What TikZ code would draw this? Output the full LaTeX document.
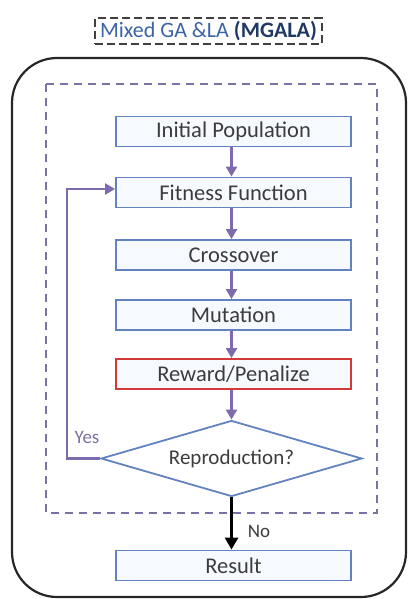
\documentclass[tikz,border=0pt]{standalone}
\usepackage{fontspec}
\setmainfont{Carlito}
\usetikzlibrary{arrows.meta,shapes.geometric}
\definecolor{boxblue}{HTML}{6383C0}
\definecolor{boxfill}{HTML}{F6FAFF}
\definecolor{flowpurple}{HTML}{7E6BAE}
\definecolor{redline}{HTML}{D23A3A}
\definecolor{txtgray}{HTML}{3C3C3C}
\definecolor{titleblue}{HTML}{3A64A4}
\definecolor{titledark}{HTML}{1F3864}
\tikzset{
  stepbox/.style={draw=boxblue, fill=boxfill, line width=1.8pt, minimum width=235pt,
    minimum height=30pt, inner sep=0pt, text=txtgray, font=\fontsize{22.5}{26}\selectfont},
  flow/.style={draw=flowpurple, line width=2.2pt, -{Triangle[length=10pt,width=11pt]}},
}
\begin{document}
\begin{tikzpicture}[x=1pt,y=-1pt]
\useasboundingbox (0,0) rectangle (413,599);
% caption with dashed frame
\node[draw=black!75, dashed, dash pattern=on 8pt off 4pt, line width=2pt, inner xsep=5pt, inner ysep=3pt,
  text=titleblue, font=\fontsize{22}{26}\selectfont] (title) at (208.5,31)
  {Mixed GA \&LA \textbf{\textcolor{titledark}{(MGALA)}}};
% outer rounded container
\draw[black!85, line width=2.2pt, rounded corners=45pt] (12,58) rectangle (406,597);
% dashed inner region
\draw[flowpurple!75!gray, dashed, dash pattern=on 8pt off 6pt, line width=1.8pt] (46,84) rectangle (377,513);
% steps
\node[stepbox] (init) at (233.5,131.5) {Initial Population};
\node[stepbox] (fit) at (233.5,192.5) {Fitness Function};
\node[stepbox] (cross) at (233.5,255) {Crossover};
\node[stepbox] (mut) at (233.5,315) {Mutation};
\node[stepbox, draw=redline] (rew) at (233.5,374) {Reward/Penalize};
\node[diamond, draw=boxblue, fill=white, line width=1.8pt, aspect=3.42, minimum width=261pt,
  minimum height=76pt, inner sep=0pt, text=txtgray, font=\fontsize{21}{25}\selectfont] (rep) at (231.5,458.5) {Reproduction?};
\node[stepbox] (res) at (233.5,565.5) {Result};
% connectors
\draw[flow] (init.south -| rep.north) -- (fit.north -| rep.north);
\draw[flow] (fit.south -| rep.north) -- (cross.north -| rep.north);
\draw[flow] (cross.south -| rep.north) -- (mut.north -| rep.north);
\draw[flow] (mut.south -| rep.north) -- (rew.north -| rep.north);
\draw[flow] (rew.south -| rep.north) -- (rep.north);
\coordinate (loopA) at (67,458.5);
\coordinate (loopB) at (67,189);
\draw[flow] (rep.west) -- (loopA) -- (loopB) -- (loopB -| fit.west);
\node[text=flowpurple!70!gray, font=\fontsize{19}{22}\selectfont] (yes) at (87,437) {Yes};
\draw[black, line width=2.8pt, -{Triangle[length=12pt,width=13pt]}] (rep.south) -- (res.north -| rep.south);
\node[text=txtgray, font=\fontsize{19}{22}\selectfont] (no) at (259,531) {No};
\end{tikzpicture}
\end{document}
